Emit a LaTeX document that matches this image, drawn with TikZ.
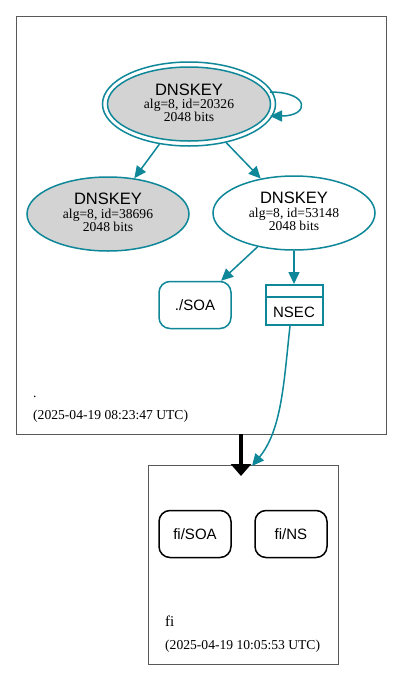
\documentclass[tikz,border=0pt]{standalone}
\usepackage{fontspec}
\setmainfont{Liberation Serif}
\newfontfamily\arialf{Liberation Sans}
\usetikzlibrary{arrows.meta,shapes.geometric}
\definecolor{teal1}{HTML}{0E8799}
\definecolor{keygray}{HTML}{D3D3D3}
\tikzset{
  zonebox/.style={draw=black!65, line width=0.8pt},
  keynode/.style={ellipse, draw=teal1, line width=1.5pt, minimum width=162pt, minimum height=74pt, inner sep=0pt, align=center},
  rrnode/.style={rounded corners=11pt, line width=1.5pt, minimum width=72pt, minimum height=47pt, inner sep=0pt, font=\arialf\fontsize{15}{17}\selectfont},
  tedge/.style={draw=teal1, line width=1.5pt, -{Triangle[length=12pt,width=11pt]}},
  big/.style={font=\arialf\fontsize{16.5}{18}\selectfont},
  small/.style={font=\fontsize{13.6}{15}\selectfont},
  datelbl/.style={font=\fontsize{13.6}{15}\selectfont, anchor=base west, inner sep=0pt},
}
\begin{document}
\begin{tikzpicture}[x=1pt,y=-1pt]
\useasboundingbox (0,0) rectangle (403,681);
\fill[white] (0,0) rectangle (403,681);
% clusters
\draw[zonebox] (16,16) rectangle (386,434);
\draw[zonebox] (148,465) rectangle (338,664);
% KSK
\node[keynode, fill=white, minimum width=173pt, minimum height=84pt] (kskout) at (189,104) {};
\node[keynode, fill=keygray, minimum width=163pt, minimum height=74pt] (ksk) at (189,104) {};
\node[big, inner sep=0pt, anchor=base] (ksk1) at (189,95) {DNSKEY};
\node[small, inner sep=0pt, anchor=base] (ksk2) at (189,108) {alg=8, id=20326};
\node[small, inner sep=0pt, anchor=base] (ksk3) at (189,121) {2048 bits};
% ZSK gray
\node[keynode, fill=keygray] (k2) at (108,214) {};
\node[big, inner sep=0pt, anchor=base] (k2a) at (108,204) {DNSKEY};
\node[small, inner sep=0pt, anchor=base] (k2b) at (108,218) {alg=8, id=38696};
\node[small, inner sep=0pt, anchor=base] (k2c) at (108,231) {2048 bits};
% ZSK white
\node[keynode, fill=white] (k3) at (294,213) {};
\node[big, inner sep=0pt, anchor=base] (k3a) at (294,203) {DNSKEY};
\node[small, inner sep=0pt, anchor=base] (k3b) at (294,217) {alg=8, id=53148};
\node[small, inner sep=0pt, anchor=base] (k3c) at (294,230) {2048 bits};
% SOA
\node[rrnode, draw=teal1] (soa) at (195,305) {./SOA};
% NSEC
\node[draw=teal1, line width=2pt, minimum width=57pt, minimum height=40pt, inner sep=0pt] (nsec) at (294,305) {};
\draw[teal1, line width=2pt] (265.5,297) -- (322.5,297);
\node[font=\arialf\fontsize{15}{17}\selectfont, inner sep=0pt] (nsect) at (294,312) {NSEC};
% edges
\coordinate (lpa) at (270,92);
\coordinate (lpb) at (270,116);
\draw[tedge] (lpa) .. controls (310,92) and (310,116) .. (lpb);
\draw[tedge] (kskout) -- (k2);
\draw[tedge] (kskout) -- (k3);
\draw[tedge] (k3) -- (soa);
\draw[tedge] (k3) -- (nsec);
% fi zone
\node[rrnode, draw=black] (fisoa) at (195,534) {fi/SOA};
\node[rrnode, draw=black] (fins) at (291,534) {fi/NS};
\coordinate (fitop) at (252,466);
\coordinate (dtop) at (241,434);
\coordinate (dbot) at (241,476);
\draw[tedge] (nsec.south) ++(-4,0) .. controls (284,380) and (282,430) .. (fitop);
\draw[line width=4.5pt, -{Triangle[length=12pt,width=20pt]}] (dtop) -- (dbot);
% labels
\node[datelbl] (dot1) at (33,397) {.};
\node[datelbl] (date1) at (33,419) {(2025-04-19 08:23:47 UTC)};
\node[datelbl, font=\fontsize{15}{16}\selectfont] (fil) at (165,626) {fi};
\node[datelbl] (date2) at (165,649) {(2025-04-19 10:05:53 UTC)};
\end{tikzpicture}
\end{document}
